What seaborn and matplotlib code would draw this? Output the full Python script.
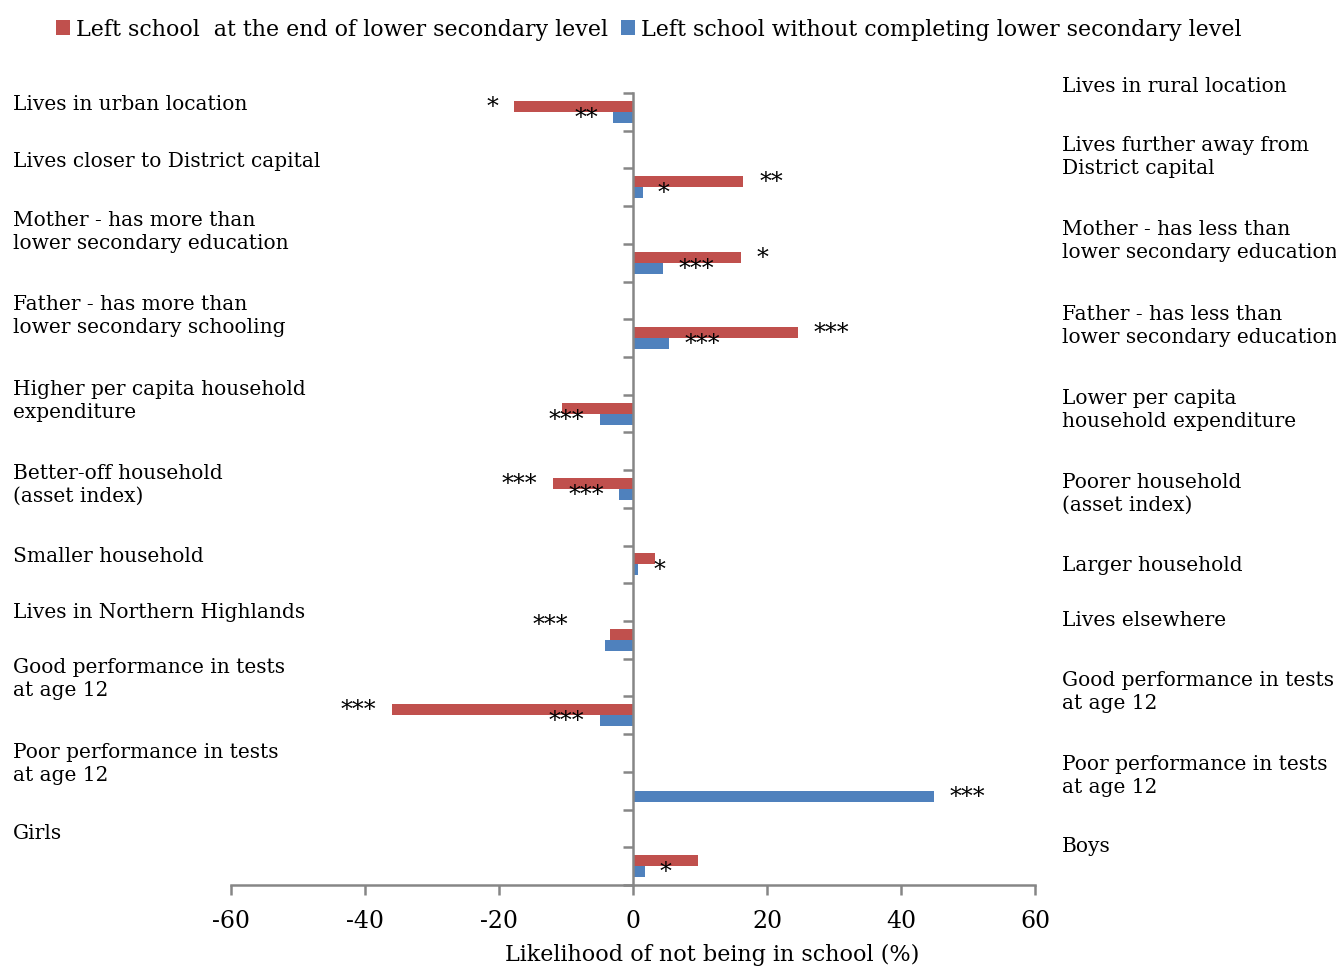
import matplotlib
matplotlib.use("Agg")
import matplotlib.pyplot as plt
import matplotlib.transforms as mtrans
import seaborn as sns
import pandas as pd

# ---------------- data ----------------
left_labels = [
    "Lives in urban location",
    "Lives closer to District capital",
    "Mother - has more than\nlower secondary education",
    "Father - has more than\nlower secondary schooling",
    "Higher per capita household\nexpenditure",
    "Better-off household\n(asset index)",
    "Smaller household",
    "Lives in Northern Highlands",
    "Good performance in tests\nat age 12",
    "Poor performance in tests\nat age 12",
    "Girls",
]
right_labels = [
    "Lives in rural location",
    "Lives further away from\nDistrict capital",
    "Mother - has less than\nlower secondary education",
    "Father - has less than\nlower secondary education",
    "Lower per capita\nhousehold expenditure",
    "Poorer household\n(asset index)",
    "Larger household",
    "Lives elsewhere",
    "Good performance in tests\nat age 12",
    "Poor performance in tests\nat age 12",
    "Boys",
]
series_names = ["Left school  at the end of lower secondary level",
                "Left school without completing lower secondary level"]
red_vals = [-17.8, 16.4, 16.1, 24.6, -10.6, -11.9, 3.3, -3.4, -36.0, 0.0, 9.7]
blue_vals = [-3.0, 1.5, 4.5, 5.4, -4.9, -2.1, 0.7, -4.2, -4.9, 44.9, 1.8]
red_stars = ["*", "**", "*", "***", "", "***", "", "***", "***", "", ""]
blue_stars = ["**", "*", "***", "***", "***", "***", "*", "", "***", "***", "*"]
red_star_x = [-21.0, 20.6, 19.3, 29.6, None, -16.9, None, -12.4, -41.0, None, None]
blue_star_x = [-7.0, 4.6, 9.4, 10.3, -10.0, -7.0, 3.9, None, -9.9, 49.9, 4.9]
x_ticks = [-60, -40, -20, 0, 20, 40, 60]

# ---------------- layout (not data) ----------------
left_label_y = [-0.21, 1.30, 3.16, 5.39, 7.64, 9.87, 11.75, 13.24, 15.01, 17.27, 19.12]
right_label_y = [-0.71, 1.17, 3.40, 5.65, 7.88, 10.11, 11.99, 13.47, 15.35, 17.59, 19.44]
red_star_dy = [0, 0, 0, 0, 0, 0, 0, -0.25, 0, 0, 0]

RED = "#C0504D"
BLUE = "#4F81BD"
GREY = "#868686"
FONT = ["DejaVu Serif"]

keys = [f"c{i}" for i in range(len(left_labels))]
order = []
for i, k in enumerate(keys):
    order.append(k)
    if i < len(keys) - 1:
        order.append(f"g{i}")

df = pd.DataFrame({
    "cat": keys * 2,
    "value": red_vals + blue_vals,
    "series": [series_names[0]] * len(keys) + [series_names[1]] * len(keys),
})

sns.set_style("white")
plt.rcParams["font.family"] = FONT
plt.rcParams["text.color"] = "black"
plt.rcParams["axes.labelcolor"] = "black"
plt.rcParams["xtick.labelcolor"] = "black"

fig = plt.figure(figsize=(13.36, 9.70), dpi=100)
ax = fig.add_axes([231 / 1336, 1 - 886 / 970, 804 / 1336, 792 / 970])

sns.barplot(data=df, x="value", y="cat", hue="series", order=order,
            hue_order=series_names, palette=[RED, BLUE], orient="h",
            width=0.58, errorbar=None, linewidth=0, saturation=1, ax=ax)

ax.set_xlim(-60, 60)
ax.set_ylim(len(order) - 0.5, -0.5)
ax.set_xticks(x_ticks)
ax.set_xticklabels([str(t) for t in x_ticks], fontsize=17, color="black")
ax.set_yticks([i - 0.5 for i in range(len(order) + 1)])
ax.set_yticklabels([])
ax.set_ylabel("")
ax.set_xlabel("Likelihood of not being in school (%)", fontsize=16, color="black")
ax.xaxis.set_label_coords(0.598, -0.073)

for s in ["top", "right"]:
    ax.spines[s].set_visible(False)
ax.spines["left"].set_position(("data", 0))
for s in ["left", "bottom"]:
    ax.spines[s].set_color(GREY)
    ax.spines[s].set_linewidth(1.8)
ax.tick_params(axis="both", direction="out", length=7, width=1.8, color=GREY)
ax.tick_params(axis="x", bottom=True, pad=10)
ax.tick_params(axis="y", left=True, length=7)

# star annotations next to the bars (hue dodge offsets)
w = 0.58 / 2
for i in range(len(keys)):
    pos = order.index(keys[i])
    if red_stars[i]:
        ax.annotate(red_stars[i], xy=(red_star_x[i], pos - w / 2 + red_star_dy[i]),
                    xytext=(0, 0), textcoords="offset points",
                    ha="center", va="center", fontsize=17, color="black")
    if blue_stars[i]:
        ax.annotate(blue_stars[i], xy=(blue_star_x[i], pos + w / 2),
                    xytext=(0, 0), textcoords="offset points",
                    ha="center", va="center", fontsize=17, color="black")

tl = mtrans.blended_transform_factory(fig.transFigure, ax.transData)
for lab, y in zip(left_labels, left_label_y):
    ax.text(13 / 1336, y, lab, transform=tl, ha="left", va="center",
            fontsize=14.5, linespacing=1.25, clip_on=False, color="black")
for lab, y in zip(right_labels, right_label_y):
    ax.text(1062 / 1336, y, lab, transform=tl, ha="left", va="center",
            fontsize=14.5, linespacing=1.25, clip_on=False, color="black")

leg = ax.legend(loc="center left", bbox_to_anchor=(56 / 1336, 1 - 30 / 970),
                bbox_transform=fig.transFigure, ncol=2, frameon=False,
                handlelength=0.65, handleheight=0.65, handletextpad=0.25,
                columnspacing=0.6, borderaxespad=0, borderpad=0, fontsize=15.9)
for t in leg.get_texts():
    t.set_color("black")

fig.savefig("out.png", dpi=100)
